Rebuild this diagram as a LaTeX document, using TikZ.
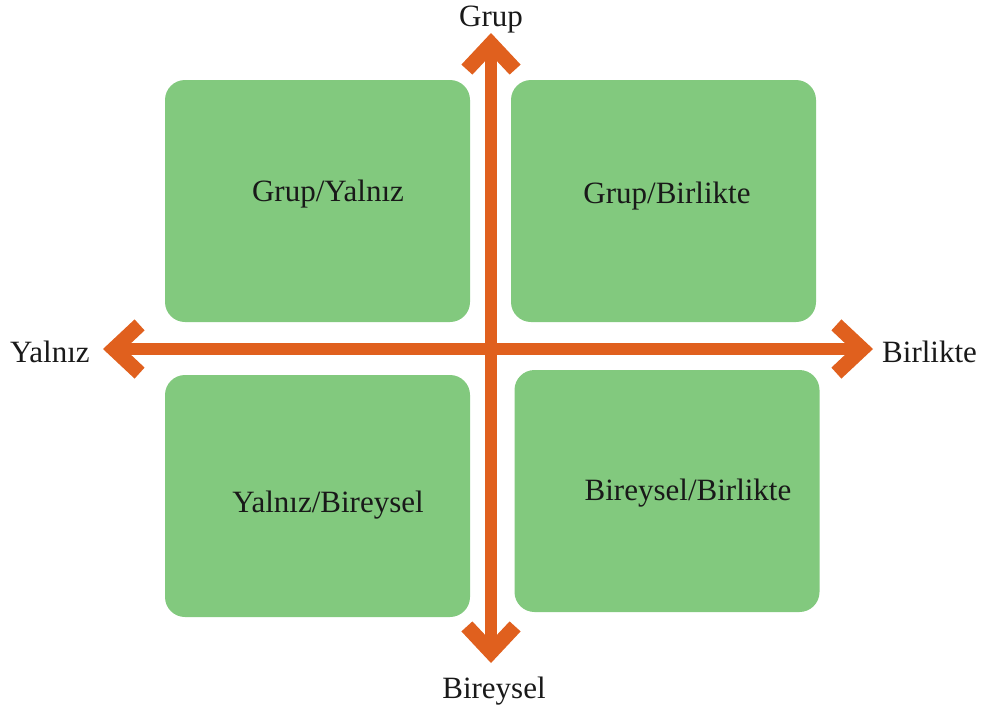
\documentclass[tikz,border=0pt]{standalone}
\usepackage{fontspec}
\setmainfont{Liberation Serif}
\definecolor{boxgreen}{RGB}{130,201,126}
\definecolor{axisorange}{RGB}{224,96,30}
\begin{document}
\begin{tikzpicture}[x=1pt,y=-1pt,
  quad/.style={fill=boxgreen,draw=none,rounded corners=20pt,minimum width=305pt,minimum height=242pt,inner sep=0pt},
  qtext/.style={font=\fontsize{31}{36}\selectfont,text=black!90,inner sep=0pt},
  axlabel/.style={font=\fontsize{31}{36}\selectfont,text=black!90,inner sep=0pt},
  axisline/.style={draw=axisorange,line width=12pt,line cap=butt,shorten <=20pt,shorten >=20pt},
  chev/.pic={\fill[axisorange] (0,0) -- (-31.6,-29.6) -- (-41.6,-18.6) -- (-21.8,0) -- (-41.6,18.6) -- (-31.6,29.6) -- cycle;}
]
\useasboundingbox (0,0) rectangle (982,707);
% quadrant boxes
\node[quad] (tl) at (317.5,201) {};
\node[quad] (tr) at (663.5,201) {};
\node[quad] (bl) at (317.5,496) {};
\node[quad] (br) at (667,491) {};
\node[qtext] (ttl) at (328,194) {Grup/Yalnız};
\node[qtext] (ttr) at (667,196) {Grup/Birlikte};
\node[qtext] (tbl) at (328,505) {Yalnız/Bireysel};
\node[qtext] (tbr) at (688,493) {Bireysel/Birlikte};
% axis tips
\coordinate (tipL) at (103,349);
\coordinate (tipR) at (873,349);
\coordinate (tipT) at (491,33);
\coordinate (tipB) at (491,663);
\draw[axisline] (tipL) -- (tipR);
\draw[axisline] (tipT) -- (tipB);
\pic at (tipR) {chev};
\pic[rotate=180] at (tipL) {chev};
\pic[rotate=90] at (tipT) {chev};
\pic[rotate=-90] at (tipB) {chev};
% axis labels
\node[axlabel] (lg) at (491,20) {Grup};
\node[axlabel] (lb) at (494,691) {Bireysel};
\node[axlabel,anchor=west] (ly) at (10,352) {Yalnız};
\node[axlabel,anchor=west] (lr) at (882,352) {Birlikte};
\end{tikzpicture}
\end{document}
